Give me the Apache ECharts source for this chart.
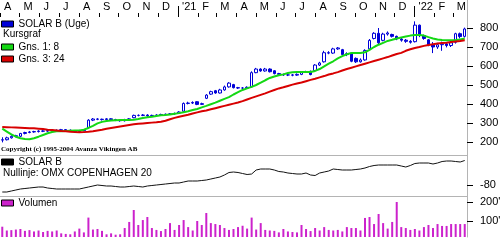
<!DOCTYPE html>
<html><head><meta charset="utf-8">
<script src="https://cdn.jsdelivr.net/npm/echarts@6/dist/echarts.min.js"></script>
<style>html,body{margin:0;padding:0;background:#fff}#c{width:500px;height:240px}</style>
</head><body><div id="c"></div>
<script>
// ---- data (weekly, from early April 2020 to mid March 2022) ----
const weekCount = 103;
const monthTickLabels = ['A','M','J','J','A','S','O','N','D',"'21",'F','M','A','M','J','J','A','S','O','N','D',"'22",'F','M'];
const priceTicks = [200,300,400,500,600,700,800];
const relTicks = [-80];
const volumeTicks = [100,200];

const opens = [210,212,222,230,230,245,250,253,255,258,
257,261,262,260,265,262,258,255,260,275,
315,321,320,318,322,318,315,312,318,328,
340,340,342,338,340,342,345,346,348,352,
362,403,405,412,398,430,452,470,458,474,
490,502,486,484,484,490,565,584,574,584,
575,560,556,553,553,552,556,568,572,576,
605,622,670,668,690,686,660,668,640,622,
632,690,745,772,735,768,766,756,742,736,
730,728,815,760,738,712,700,712,716,708,
725,770,756];
const closes = [212,222,230,233,245,250,253,255,258,257,
261,262,260,265,262,258,255,260,263,315,
321,320,318,322,318,315,312,318,322,340,
340,342,338,340,342,345,346,348,350,358,
403,405,408,398,402,447,465,458,474,490,
510,486,484,484,488,565,584,574,584,570,
560,556,553,553,552,556,568,570,555,605,
616,670,668,690,695,660,665,625,622,632,
682,735,772,722,768,774,756,742,736,730,
725,815,760,745,710,700,712,715,708,722,
770,755,795];
const lows = [198,208,218,225,226,240,246,249,250,252,
252,255,254,256,257,253,250,251,256,272,
310,315,313,314,313,310,307,308,314,325,
335,336,333,334,336,338,341,342,344,348,
358,398,400,394,395,426,448,454,455,470,
486,482,479,479,480,486,562,570,570,566,
556,551,548,547,546,548,552,564,551,572,
600,618,662,664,685,656,652,620,616,618,
628,686,740,716,730,760,750,736,728,722,
718,724,752,738,704,668,690,680,698,700,
718,745,750];
const highs = [225,228,235,238,248,254,258,259,262,262,
265,267,266,269,268,266,262,264,268,320,
326,325,323,326,325,322,319,322,326,344,
345,347,346,344,346,349,350,352,355,362,
408,412,414,415,407,452,470,474,480,497,
515,506,490,489,493,572,590,588,590,588,
578,564,560,559,558,561,573,575,576,610,
622,680,678,696,700,690,672,670,645,640,
688,742,778,800,775,782,770,760,748,742,
736,835,818,765,742,726,722,728,726,732,
775,776,802];
const ma8 = [270,255,240,228,220,216,214,220,228,237,
246,253,256,257,258,259,260,261,265,274,
285,298,306,310,313,315,316,316,316,317,
321,326,330,333,337,341,342,345,349,352,
357,362,368,374,382,390,399,407,417,427,
436,450,462,474,482,490,500,512,525,537,
545,551,556,563,567,568,568,568,568,574,
584,598,612,625,640,652,662,668,668,668,
672,685,700,712,722,732,738,745,750,755,
760,763,763,760,752,745,740,737,735,735,
737,740,745];
const ma24 = [279,278,277,276,275,274,273,272,270,268,
265,263,261,258,256,254,252,251,252,254,
257,261,265,270,274,278,282,286,290,293,
296,298,300,302,304,307,312,320,327,333,
338,343,350,356,362,366,372,378,384,390,
396,402,408,415,424,432,440,448,456,465,
474,482,488,495,502,508,513,520,527,533,
540,547,555,561,568,576,584,591,598,605,
612,619,626,633,640,647,655,663,669,680,
688,695,700,706,711,715,719,721,723,726,
729,732,736];
const relative = [-94,-94,-92,-90,-88,-87,-86,-85,-84,-84,
-86,-87,-88,-88,-88,-88,-88,-88,-86,-84,
-82,-80,-81,-82,-82,-83,-84,-84,-83,-82,
-83,-84,-82,-81,-80,-79,-78,-77,-76,-76,
-74,-72,-72,-72,-71,-70,-68,-66,-64,-60,
-55,-54,-55,-57,-59,-58,-50,-48,-48,-48,
-50,-53,-54,-56,-57,-58,-58,-56,-60,-61,
-56,-54,-52,-48,-49,-50,-50,-50,-49,-48,
-46,-43,-41,-40,-40,-40,-40,-40,-42,-44,
-41,-37,-36,-36,-36,-38,-36,-33,-32,-32,
-33,-34,-31];
const volume = [70,50,52,55,58,48,52,45,50,42,
48,45,50,35,32,30,45,60,40,118,
55,58,48,30,35,28,30,63,95,158,
79,105,121,63,53,47,58,89,53,79,
105,68,50,100,79,142,89,84,79,63,
53,58,68,75,60,118,55,89,53,50,
48,40,58,45,42,40,79,58,47,63,
50,68,53,50,53,45,68,63,63,50,
116,121,84,137,89,60,95,200,68,63,
53,58,50,68,79,63,84,74,74,84,
84,84,84];

// ---- derived helpers ----
const DAY = 86400000;
const t0 = Date.UTC(2020,3,1);
const weeks = [];
for (let i = 0; i < weekCount; i++) weeks.push(new Date(t0 + i*7*DAY).toISOString().slice(0,10));
const monthStarts = monthTickLabels.map((_, k) => (Date.UTC(2020, 3 + k, 1) - t0) / DAY / 7);
const yearStarts = [Date.UTC(2021,0,1), Date.UTC(2022,0,1)].map(d => (d - t0) / DAY / 7);
const candles = opens.map((o, i) => [o, closes[i], lows[i], highs[i]]);

const FONT = '"Liberation Sans", Arial, sans-serif';
const BLUE = '#0000d8', GREEN = '#14d814', RED = '#d80000', MAG = '#cc22cc', AX = '#b4b4b4';

const chart = echarts.init(document.getElementById('c'), null, {renderer: 'canvas'});
const gridBase = {left: 0, width: 467, containLabel: false, outerBoundsMode: 'none'};
const hiddenCat = (gi, line) => ({type: 'category', gridIndex: gi, data: weeks, position: 'bottom',
  axisLine: {show: line, lineStyle: {color: AX, width: 1}}, axisTick: {show: false}, axisLabel: {show: false}, splitLine: {show: false}});
const rightAxis = (gi, min, max, ticks, fmt) => ({type: 'value', gridIndex: gi, position: 'right', min, max,
  axisLine: {show: true, lineStyle: {color: AX, width: 1}},
  axisTick: {show: true, customValues: ticks, length: 6, lineStyle: {color: '#000'}},
  axisLabel: {show: true, customValues: ticks, margin: 13, fontSize: 11, color: '#000', fontFamily: FONT, formatter: fmt},
  splitLine: {show: false}});

chart.setOption({
  animation: false,
  textStyle: {fontFamily: FONT},
  grid: [
    Object.assign({top: 0, height: 155}, gridBase),
    Object.assign({top: 155, height: 41}, gridBase),
    Object.assign({top: 196, height: 41}, gridBase),
    Object.assign({top: 16, height: 1}, gridBase),
    Object.assign({top: 16, height: 1}, gridBase)
  ],
  xAxis: [
    hiddenCat(0, true),
    hiddenCat(1, true),
    hiddenCat(2, false),
    {type: 'value', gridIndex: 3, position: 'top', min: 0, max: weekCount,
      axisLine: {show: false}, splitLine: {show: false}, splitArea: {show: false}, minorTick: {show: false},
      axisTick: {show: true, customValues: monthStarts, length: 4, lineStyle: {color: '#000'}},
      axisLabel: {show: true, customValues: monthStarts, margin: 4, fontSize: 11, color: '#000', fontFamily: FONT,
        align: 'left', padding: [0, 0, 0, 4],
        formatter: v => { const k = monthStarts.findIndex(m => Math.abs(m - v) < 1e-6); return k < 0 ? '' : monthTickLabels[k]; }}},
    {type: 'value', gridIndex: 4, position: 'top', min: 0, max: weekCount,
      axisLine: {show: false}, splitLine: {show: false}, splitArea: {show: false}, minorTick: {show: false},
      axisTick: {show: true, customValues: yearStarts, length: 11, lineStyle: {color: '#000'}},
      axisLabel: {show: false}}
  ],
  yAxis: [
    rightAxis(0, 131.6, 947.4, priceTicks, v => String(v)),
    rightAxis(1, -102, -20, relTicks, v => String(v)),
    rightAxis(2, 15.8, 231.6, volumeTicks, v => v + "'"),
    {type: 'value', gridIndex: 3, show: false, min: 0, max: 1, splitLine: {show: false}},
    {type: 'value', gridIndex: 4, show: false, min: 0, max: 1, splitLine: {show: false}}
  ],
  legend: [
    {data: [{name: 'SOLAR B (Uge)', itemStyle: {color: BLUE}}], left: 1, top: 18, icon: 'rect', itemWidth: 12, itemHeight: 6,
      itemStyle: {borderColor: '#000', borderWidth: 1}, textStyle: {fontSize: 10, lineHeight: 12, color: '#000', fontFamily: FONT}, selectedMode: false, padding: 0},
    {data: ['Gns. 1: 8', 'Gns. 3: 24'], orient: 'vertical', left: 1, top: 41, icon: 'rect', itemWidth: 12, itemHeight: 6, itemGap: 0,
      itemStyle: {borderColor: '#000', borderWidth: 1}, textStyle: {fontSize: 10, lineHeight: 12, color: '#000', fontFamily: FONT}, selectedMode: false, padding: 0},
    {data: ['SOLAR B'], left: 1, top: 156, icon: 'rect', itemWidth: 12, itemHeight: 6,
      itemStyle: {borderColor: '#000', borderWidth: 1}, textStyle: {fontSize: 10, lineHeight: 12, color: '#000', fontFamily: FONT}, selectedMode: false, padding: 0},
    {data: ['Volumen'], left: 1, top: 197, icon: 'rect', itemWidth: 12, itemHeight: 6,
      itemStyle: {borderColor: '#000', borderWidth: 1}, textStyle: {fontSize: 10, lineHeight: 12, color: '#000', fontFamily: FONT}, selectedMode: false, padding: 0}
  ],
  graphic: [
    {type: 'text', left: 3, top: 29, style: {text: 'Kursgraf', font: '10px ' + FONT, fill: '#000'}},
    {type: 'text', left: 3, top: 168, style: {text: 'Nullinje: OMX COPENHAGEN 20', font: '10px ' + FONT, fill: '#000'}},
    {type: 'text', left: 1, top: 146, style: {text: 'Copyright (c) 1995-2004 Avanza Vikingen AB', font: 'bold 7px "Liberation Serif", serif', fill: '#000'}}
  ],
  series: [
    {name: 'SOLAR B (Uge)', type: 'candlestick', xAxisIndex: 0, yAxisIndex: 0, data: candles, barWidth: 3,
      itemStyle: {color: '#ffffff', color0: BLUE, borderColor: BLUE, borderColor0: BLUE, borderWidth: 1}},
    {name: 'Gns. 1: 8', type: 'line', xAxisIndex: 0, yAxisIndex: 0, data: ma8, showSymbol: false,
      lineStyle: {color: GREEN, width: 2}, itemStyle: {color: GREEN}},
    {name: 'Gns. 3: 24', type: 'line', xAxisIndex: 0, yAxisIndex: 0, data: ma24, showSymbol: false,
      lineStyle: {color: RED, width: 2}, itemStyle: {color: RED}},
    {name: 'SOLAR B', type: 'line', xAxisIndex: 1, yAxisIndex: 1, data: relative, showSymbol: false,
      lineStyle: {color: '#111', width: 1}, itemStyle: {color: '#000'}},
    {name: 'Volumen', type: 'bar', xAxisIndex: 2, yAxisIndex: 2, data: volume, barWidth: 2,
      itemStyle: {color: MAG}}
  ]
});
</script></body></html>
